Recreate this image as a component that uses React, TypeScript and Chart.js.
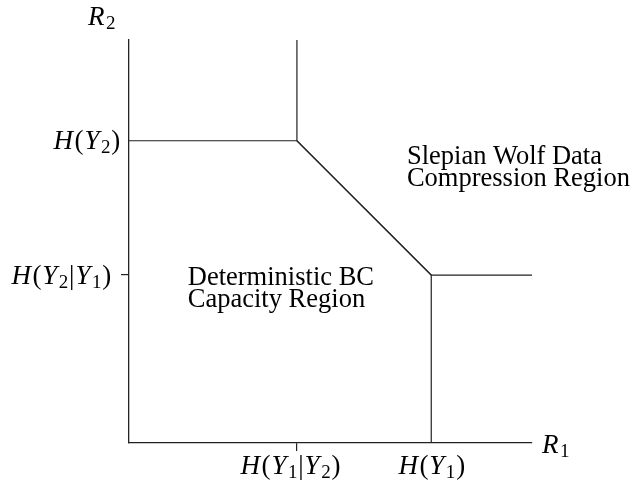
import React, { useEffect, useRef } from "react";
import { Chart, registerables } from "chart.js";

Chart.register(...registerables);

// Axis extents (rate units)
const R1_MAX = 2.4;
const R2_MAX = 2.4;

// Tick values and labels
const xTickValues = [1, 1.8];
const xTickLabels = ["H(Y_1|Y_2)", "H(Y_1)"];
const yTickValues = [1.8, 1];
const yTickLabels = ["H(Y_2)", "H(Y_2|Y_1)"];
const markedTick = 1; // conditional entropies carry a tick mark

// Slepian-Wolf boundary
const swX = [1, 1, 1.8, 2.4];
const swY = [2.4, 1.8, 1, 1];
// Deterministic BC capacity boundary
const bcX = [0, 1, 1.8, 1.8];
const bcY = [1.8, 1.8, 1, 0];

// Region labels (data coords of first line's left baseline)
const regionLines = [
  ["Deterministic BC", "Capacity Region"],
  ["Slepian Wolf Data", "Compression Region"],
];
const regionX = [0.35, 1.655];
const regionY = [0.938, 1.66];

const INK = "#222";
const MATH_FONT = "'Liberation Serif', 'Times New Roman', serif";

type Part = { t: string; it: boolean; sub: boolean };

function parseMath(s: string): Part[] {
  const parts: Part[] = [];
  for (let i = 0; i < s.length; i++) {
    const c = s[i];
    if (c === "_") {
      parts.push({ t: s[i + 1], it: false, sub: true });
      i++;
    } else if (/[A-Za-z]/.test(c)) {
      parts.push({ t: c, it: true, sub: false });
    } else {
      parts.push({ t: c, it: false, sub: false });
    }
  }
  return parts;
}

const MS = 27; // math font size
const SS = 19; // subscript size

function setFont(ctx: CanvasRenderingContext2D, p: Part) {
  const size = p.sub ? SS : MS;
  ctx.font = `${p.it ? "italic " : ""}${size}px ${MATH_FONT}`;
}

function partGap(p: Part) {
  if (p.it) return 1.5;
  if (p.t === "|") return 1.0;
  return 0.8;
}

function measureMath(ctx: CanvasRenderingContext2D, parts: Part[]) {
  let w = 0;
  for (const p of parts) {
    setFont(ctx, p);
    w += ctx.measureText(p.t).width + partGap(p);
  }
  return w;
}

function drawMath(
  ctx: CanvasRenderingContext2D,
  s: string,
  x: number,
  baseline: number,
  align: "left" | "center" | "right"
) {
  const parts = parseMath(s);
  const w = measureMath(ctx, parts);
  let cx = align === "left" ? x : align === "center" ? x - w / 2 : x - w;
  ctx.textAlign = "left";
  ctx.textBaseline = "alphabetic";
  for (const p of parts) {
    setFont(ctx, p);
    const y = p.sub ? baseline + 4 : baseline;
    ctx.fillText(p.t, cx, y);
    cx += ctx.measureText(p.t).width + partGap(p);
  }
}

const labelPlugin = {
  id: "mathLabels",
  afterDraw(chart: any) {
    const ctx: CanvasRenderingContext2D = chart.ctx;
    const xs = chart.scales.x;
    const ys = chart.scales.y;
    const area = chart.chartArea;
    ctx.save();
    ctx.fillStyle = "#000";
    xTickValues.forEach((v, i) => {
      const px = xs.getPixelForValue(v);
      const off = v === markedTick ? -6 : 1;
      drawMath(ctx, xTickLabels[i], px + off, area.bottom + 31, "center");
    });
    yTickValues.forEach((v, i) => {
      const py = ys.getPixelForValue(v);
      const gap = v === markedTick ? 17 : 8;
      drawMath(ctx, yTickLabels[i], area.left - gap, py + 8.5, "right");
    });
    // axis names
    drawMath(ctx, "R_2", area.left - 41, area.top - 15, "left");
    drawMath(ctx, "R_1", area.right + 10, area.bottom + 10, "left");

    // region texts
    ctx.font = `26.5px ${MATH_FONT}`;
    ctx.textAlign = "left";
    ctx.textBaseline = "alphabetic";
    regionLines.forEach((lines, i) => {
      const px = xs.getPixelForValue(regionX[i]);
      const py = ys.getPixelForValue(regionY[i]);
      lines.forEach((ln, j) => ctx.fillText(ln, px, py + j * 21.5));
    });
    ctx.restore();
  },
};

const tickColor = (c: any) =>
  c.tick && c.tick.value === markedTick ? INK : "rgba(0,0,0,0)";

export default function App() {
  const ref = useRef<HTMLCanvasElement | null>(null);
  useEffect(() => {
    document.body.style.margin = "0";
    const canvas = ref.current!;
    const chart = new Chart(canvas, {
      type: "scatter",
      data: {
        datasets: [
          {
            data: swX.map((x, i) => ({ x, y: swY[i] })),
            showLine: true,
            borderColor: INK,
            borderWidth: 1.2,
            pointRadius: 0,
            clip: false as any,
          },
          {
            data: bcX.map((x, i) => ({ x, y: bcY[i] })),
            showLine: true,
            borderColor: INK,
            borderWidth: 1.2,
            pointRadius: 0,
            clip: false as any,
          },
        ],
      },
      options: {
        animation: false,
        responsive: false,
        events: [],
        layout: { padding: { left: 0, top: 40, right: 102, bottom: 0 } },
        plugins: { legend: { display: false }, tooltip: { enabled: false } },
        scales: {
          x: {
            type: "linear",
            min: 0,
            max: R1_MAX,
            afterBuildTicks: (s: any) => {
              s.ticks = xTickValues.map((v) => ({ value: v }));
            },
            afterFit: (s: any) => {
              s.height = 44;
            },
            ticks: { callback: () => "", autoSkip: false },
            grid: {
              drawOnChartArea: false,
              drawTicks: true,
              tickLength: 8,
              color: tickColor,
              lineWidth: 1.2,
            },
            border: { display: true, color: INK, width: 1.3 },
          },
          y: {
            type: "linear",
            min: 0,
            max: R2_MAX,
            afterBuildTicks: (s: any) => {
              s.ticks = yTickValues.map((v) => ({ value: v }));
            },
            afterFit: (s: any) => {
              s.width = 129;
            },
            ticks: { callback: () => "", autoSkip: false },
            grid: {
              drawOnChartArea: false,
              drawTicks: true,
              tickLength: 8,
              color: tickColor,
              lineWidth: 1.2,
            },
            border: { display: true, color: INK, width: 1.3 },
          },
        },
      },
      plugins: [labelPlugin],
    });
    return () => chart.destroy();
  }, []);
  return (
    <div style={{ position: "absolute", left: 0, top: 0, width: 634, height: 487, background: "#fff" }}>
      <canvas ref={ref} width={634} height={487} style={{ width: 634, height: 487, display: "block" }} />
    </div>
  );
}
